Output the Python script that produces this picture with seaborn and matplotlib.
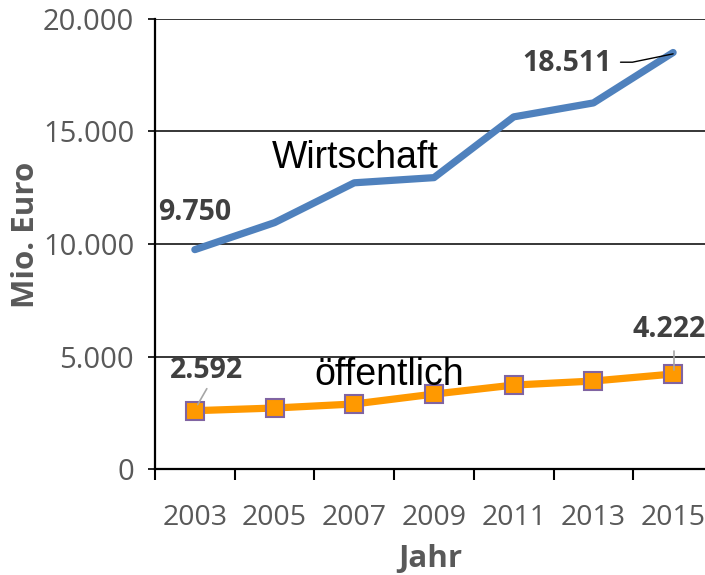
import matplotlib
matplotlib.use("Agg")
import matplotlib.pyplot as plt
import seaborn as sns
import pandas as pd
from matplotlib.ticker import FuncFormatter, FixedLocator

years = [2003, 2005, 2007, 2009, 2011, 2013, 2015]
wirtschaft = [9750, 10950, 12720, 12950, 15650, 16270, 18511]
oeffentlich = [2592, 2710, 2890, 3330, 3730, 3910, 4222]

df = pd.DataFrame({"Jahr": years, "Wirtschaft": wirtschaft, "öffentlich": oeffentlich})

sns.set_theme(style="white")
plt.rcParams["font.family"] = ["Open Sans", "DejaVu Sans"]

fig = plt.figure(figsize=(7.05, 5.75), dpi=100)
ax = fig.add_axes([155 / 705, 106 / 575, 1 - 155 / 705, 450 / 575])

sns.lineplot(data=df, x="Jahr", y="Wirtschaft", ax=ax, color="#4F81BD",
             linewidth=5.2, solid_capstyle="round")
sns.lineplot(data=df, x="Jahr", y="öffentlich", ax=ax, color="#FF9900",
             linewidth=5.2, marker="s", markersize=13, markerfacecolor="#FF9900",
             markeredgecolor="#8064A2", markeredgewidth=1.5)

ax.set_xlim(2002, 2015.8)
ax.set_ylim(0, 20000)
ax.set_yticks([0, 5000, 10000, 15000, 20000])
ax.yaxis.set_major_formatter(FuncFormatter(lambda v, p: f"{int(v):,}".replace(",", ".")))
ax.set_xticks(years)
ax.xaxis.set_minor_locator(FixedLocator([2002, 2004, 2006, 2008, 2010, 2012, 2014]))
ax.tick_params(axis="x", which="major", length=0, pad=25, labelsize=20.5, labelcolor="#595959")
ax.tick_params(axis="x", which="minor", length=8, width=1.5, color="black", direction="out", bottom=True)
ax.tick_params(axis="y", length=5, width=1.2, color="black", direction="out", left=True,
               pad=10, labelsize=21, labelcolor="#595959")

ax.grid(axis="y", color="black", linewidth=1.1)
ax.grid(axis="x", visible=False)
for s in ["top", "right"]:
    ax.spines[s].set_visible(False)
for s in ["left", "bottom"]:
    ax.spines[s].set_color("black")
    ax.spines[s].set_linewidth(1.6)

ax.set_xlabel("Jahr", fontsize=22.5, fontweight="bold", color="#595959", labelpad=9)
ax.set_ylabel("Mio. Euro", fontsize=22.5, fontweight="bold", color="#595959",
              va="center", ha="center")
ax.yaxis.set_label_coords(-0.234, 0.52)

# series names
ax.text(2004.92, 13380, "Wirtschaft", fontsize=27, family="Liberation Sans", color="black",
        ha="left", va="baseline")
ax.text(2005.99, 3730, "öffentlich", fontsize=27, family="Liberation Sans", color="black",
        ha="left", va="baseline")

# data labels
lab = dict(fontsize=20.5, fontweight="bold", color="#404040", ha="center", va="center")
ax.text(years[0], 11420, f"{wirtschaft[0]:,}".replace(",", "."), **lab)
ax.text(2012.33, 18040, f"{wirtschaft[-1]:,}".replace(",", "."), **lab)
ax.text(2003.28, 4400, f"{oeffentlich[0]:,}".replace(",", "."), **lab)
ax.text(2014.9, 6180, f"{oeffentlich[-1]:,}".replace(",", "."), **lab)

# leader lines
ax.plot([2013.68, 2013.98, years[-1]], [18080, 18080, wirtschaft[-1] - 60], color="black", lw=1)
ax.plot([2003.3, 2003.07], [3570, 2860], color="#A6A6A6", lw=1.2)
ax.plot([years[-1] + 0.02, years[-1] + 0.02], [5250, 4420], color="#A6A6A6", lw=1.2)

fig.savefig("out.png", dpi=100)
